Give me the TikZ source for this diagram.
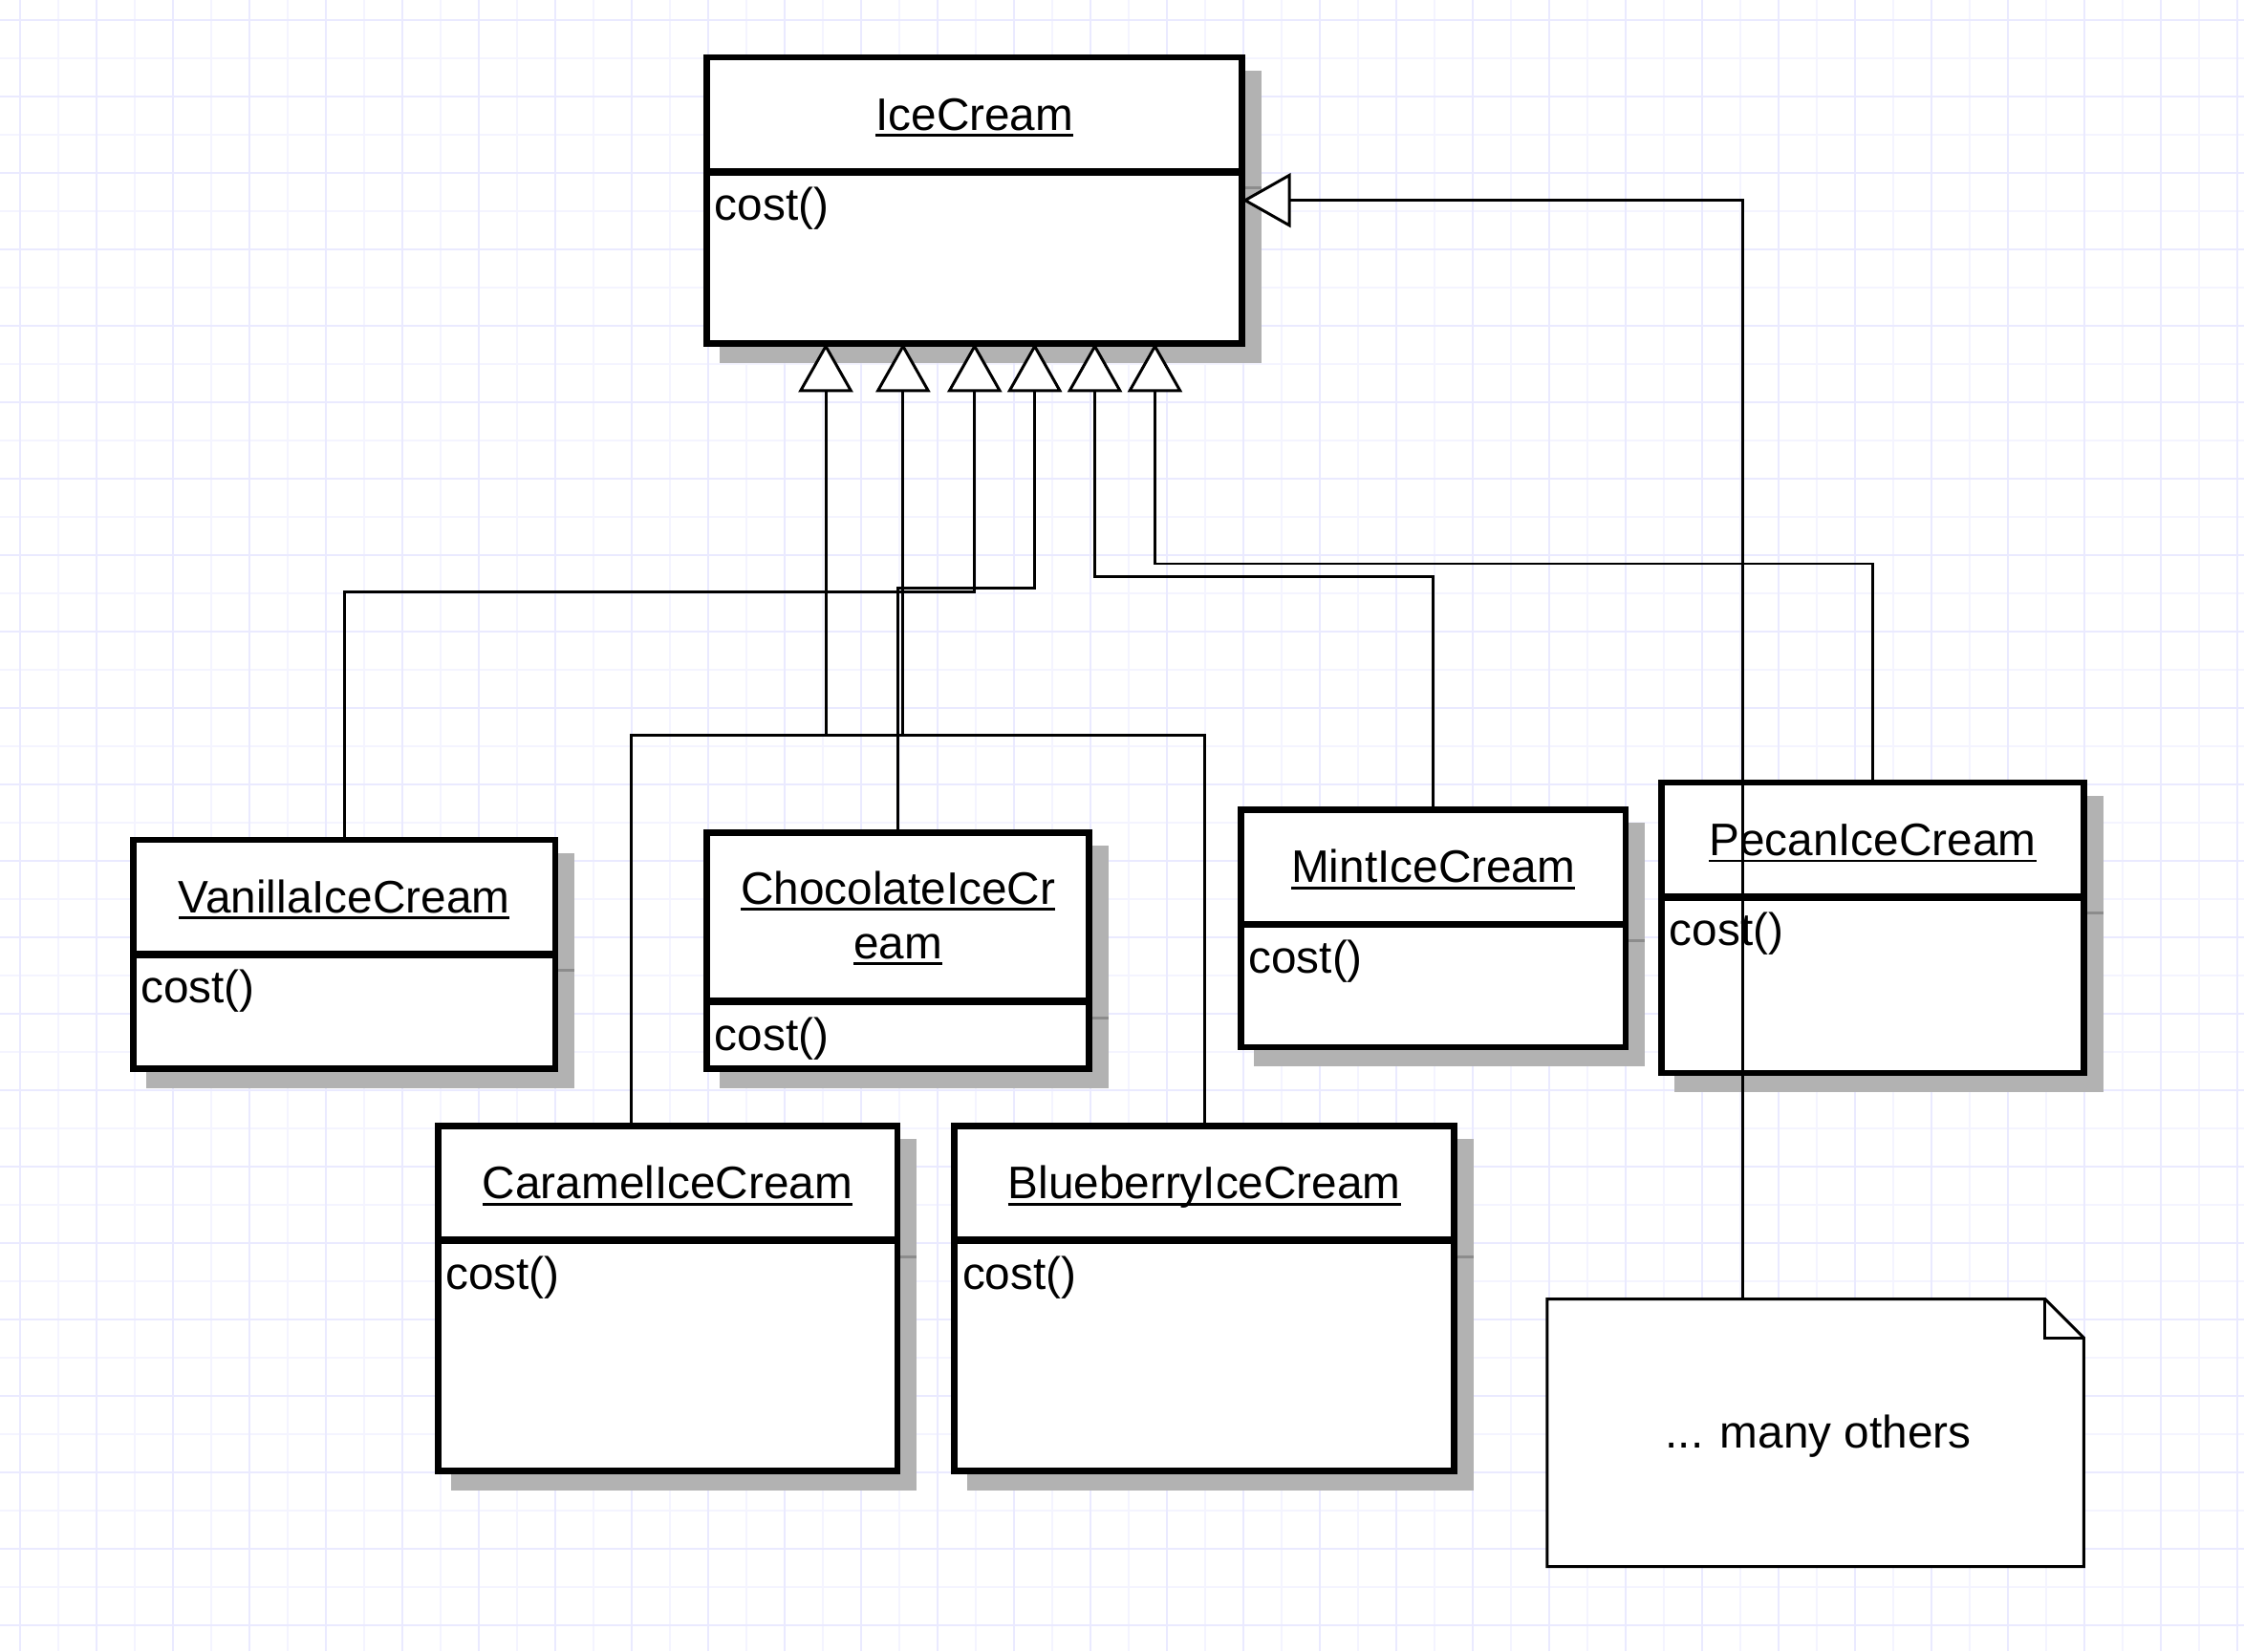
\documentclass[tikz,border=0pt]{standalone}
\usepackage{fontspec}
\setmainfont{Liberation Sans}
\usetikzlibrary{arrows.meta,calc,fit,shadows}
\definecolor{gridmajor}{RGB}{234,234,255}
\definecolor{gridminor}{RGB}{244,244,255}
\newcommand\ulname[1]{\setbox0\hbox{#1}\rlap{\rule[-1.95pt]{\wd0}{0.8pt}}\box0}
\begin{document}
\begin{tikzpicture}[x=0.15mm,y=0.15mm,
		cls/.style={draw,line width=1.9pt,fill=white,inner sep=0pt,outer sep=0pt,
			drop shadow={shadow xshift=1.7mm,shadow yshift=-1.7mm,opacity=1,fill=black!30,draw=black!30,line width=1.9pt}},
		divider/.style={line width=2.2pt},
		shadowtick/.style={draw=black!45,line width=0.8pt},
		clsname/.style={font=\fontsize{13.6}{16}\selectfont,anchor=base,inner sep=0pt},
		op/.style={font=\fontsize{13.6}{16}\selectfont,anchor=base west,inner sep=0pt},
		notebox/.style={inner sep=0pt,outer sep=0pt},
		isa/.style={line width=0.85pt,-{Triangle[fill=white,length=5.1mm,width=5.7mm]}}]
	\useasboundingbox (0,0) rectangle (1568,1154);
	\fill[white] (0,0) rectangle (1568,1154);
	\begin{scope}[shift={(13.8,18.38)}]
		\draw[gridminor,line width=0.55pt,step=4.0065mm] (-13.8,-18.38) grid (1554.2,1135.62);
		\draw[gridmajor,line width=0.55pt,step=8.013mm] (-13.8,-18.38) grid (1554.2,1135.62);
	\end{scope}
	
	\node[cls,fit={(494,914) (868,1114)}] (icecream) {};
	\draw[divider] ([yshift=-12mm]icecream.north west) -- ([yshift=-12mm]icecream.north east);
	\draw[shadowtick] ([shift={(0.33mm,-13.7mm)}]icecream.north east) -- ++(1.7mm,0);
	\node[clsname] (icecream-name) at ([yshift=-7.65mm]icecream.north) {\ulname{IceCream}};
	\node[op] (icecream-op) at ([shift={(0.75mm,-17.1mm)}]icecream.north west) {cost()};
	
	\node[cls,fit={(93,407) (388,567)}] (vanilla) {};
	\draw[divider] ([yshift=-12mm]vanilla.north west) -- ([yshift=-12mm]vanilla.north east);
	\draw[shadowtick] ([shift={(0.33mm,-13.7mm)}]vanilla.north east) -- ++(1.7mm,0);
	\node[clsname] (vanilla-name) at ([yshift=-7.65mm]vanilla.north) {\ulname{VanillaIceCream}};
	\node[op] (vanilla-op) at ([shift={(0.75mm,-17.1mm)}]vanilla.north west) {cost()};
	
	\node[cls,fit={(494,407) (761,572)}] (chocolate) {};
	\draw[divider] ([yshift=-17.7mm]chocolate.north west) -- ([yshift=-17.7mm]chocolate.north east);
	\draw[shadowtick] ([shift={(0.33mm,-19.4mm)}]chocolate.north east) -- ++(1.7mm,0);
	\node[clsname] (chocolate-name) at ([yshift=-7.5mm]chocolate.north) {\ulname{ChocolateIceCr}};
	\node[clsname] (chocolate-name2) at ([yshift=-13.2mm]chocolate.north) {\ulname{eam}};
	\node[op] (chocolate-op) at ([shift={(0.75mm,-22.8mm)}]chocolate.north west) {cost()};
	
	\node[cls,fit={(867,422) (1136,588)}] (mint) {};
	\draw[divider] ([yshift=-12mm]mint.north west) -- ([yshift=-12mm]mint.north east);
	\draw[shadowtick] ([shift={(0.33mm,-13.7mm)}]mint.north east) -- ++(1.7mm,0);
	\node[clsname] (mint-name) at ([yshift=-7.65mm]mint.north) {\ulname{MintIceCream}};
	\node[op] (mint-op) at ([shift={(0.75mm,-17.1mm)}]mint.north west) {cost()};
	
	\node[cls,fit={(1161,404) (1456,607)}] (pecan) {};
	\draw[divider] ([yshift=-12mm]pecan.north west) -- ([yshift=-12mm]pecan.north east);
	\draw[shadowtick] ([shift={(0.33mm,-13.7mm)}]pecan.north east) -- ++(1.7mm,0);
	\node[clsname] (pecan-name) at ([yshift=-7.65mm]pecan.north) {\ulname{PecanIceCream}};
	\node[op] (pecan-op) at ([shift={(0.75mm,-17.1mm)}]pecan.north west) {cost()};
	
	\node[cls,fit={(306,126) (627,367)}] (caramel) {};
	\draw[divider] ([yshift=-12mm]caramel.north west) -- ([yshift=-12mm]caramel.north east);
	\draw[shadowtick] ([shift={(0.33mm,-13.7mm)}]caramel.north east) -- ++(1.7mm,0);
	\node[clsname] (caramel-name) at ([yshift=-7.65mm]caramel.north) {\ulname{CaramelIceCream}};
	\node[op] (caramel-op) at ([shift={(0.75mm,-17.1mm)}]caramel.north west) {cost()};
	
	\node[cls,fit={(667,126) (1016,367)}] (blueberry) {};
	\draw[divider] ([yshift=-12mm]blueberry.north west) -- ([yshift=-12mm]blueberry.north east);
	\draw[shadowtick] ([shift={(0.33mm,-13.7mm)}]blueberry.north east) -- ++(1.7mm,0);
	\node[clsname] (blueberry-name) at ([yshift=-7.65mm]blueberry.north) {\ulname{BlueberryIceCream}};
	\node[op] (blueberry-op) at ([shift={(0.75mm,-17.1mm)}]blueberry.north west) {cost()};
	
	\node[notebox,fit={(1081,59) (1456,246)}] (others) {};
	\filldraw[fill=white,line width=0.85pt] (others.north west) -- ([xshift=-4.05mm]others.north east) -- ([yshift=-4.05mm]others.north east) -- (others.south east) -- (others.south west) -- cycle;
	\draw[line width=0.85pt] ([xshift=-4.05mm]others.north east) |- ([yshift=-4.05mm]others.north east);
	\node[clsname] (others-text) at ($(others.center)+(2,-10.5)$) {... many others};
	
	\draw[isa] (vanilla.north) |- ($(icecream.south)+(0,-174)$) -- (icecream.south);
	\draw[isa] (chocolate.north) |- ($(icecream.south)+(42,-171)$) -- ($(icecream.south)+(42,0)$);
	\draw[isa] (mint.north) |- ($(icecream.south)+(84,-163)$) -- ($(icecream.south)+(84,0)$);
	\draw[isa] (pecan.north) |- ($(icecream.south)+(126,-154)$) -- ($(icecream.south)+(126,0)$);
	\draw[isa] ($(caramel.north)+(-25.5,0)$) |- ($(icecream.south)+(-50,-274)$) -- ($(icecream.south)+(-50,0)$);
	\draw[isa] (blueberry.north) |- ($(icecream.south)+(-104,-274)$) -- ($(icecream.south)+(-104,0)$);
	\draw[isa] ($(others.north)+(-50.5,0)$) |- (icecream.east);
\end{tikzpicture}
\end{document}
